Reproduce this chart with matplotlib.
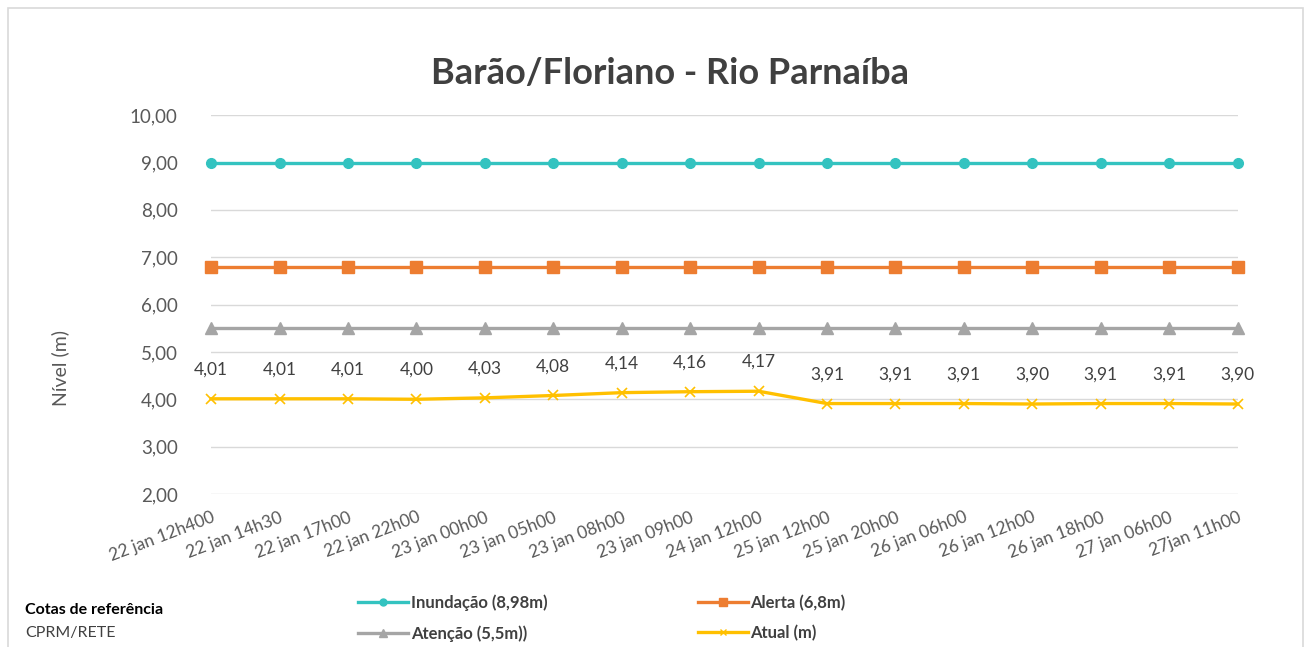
import matplotlib.pyplot as plt
import matplotlib.patches as mpatches
from matplotlib.lines import Line2D
import numpy as np

plt.rcParams['font.family'] = ['Lato', 'DejaVu Sans']

datas = ['22 jan 12h400', '22 jan 14h30', '22 jan 17h00', '22 jan 22h00', '23 jan 00h00',
         '23 jan 05h00', '23 jan 08h00', '23 jan 09h00', '24 jan 12h00', '25 jan 12h00',
         '25 jan 20h00', '26 jan 06h00', '26 jan 12h00', '26 jan 18h00', '27 jan 06h00',
         '27jan 11h00']
inundacao = [9.0] * 16
alerta = [6.8] * 16
atencao = [5.5] * 16
atual = [4.01, 4.01, 4.01, 4.00, 4.03, 4.08, 4.14, 4.16, 4.17, 3.91, 3.91, 3.91, 3.90, 3.91, 3.91, 3.90]

cor_inund = '#33C3C0'
cor_alerta = '#ED7D31'
cor_atencao = '#A5A5A5'
cor_atual = '#FFC000'
cinza = '#595959'

fig = plt.figure(figsize=(13.11, 6.47), dpi=100)
ax1 = fig.add_axes([0.161, 0.2365, 0.783, 0.5855])

# moldura do grafico
fig.patches.append(mpatches.Rectangle((0.006, -0.01), 0.988, 0.998, transform=fig.transFigure,
                                      fill=False, edgecolor='#D9D9D9', lw=1.2))

x = np.arange(len(datas))
ax1.plot(x, inundacao, color=cor_inund, lw=2.4, marker='o', markersize=7, clip_on=False, zorder=3)
ax1.plot(x, alerta, color=cor_alerta, lw=2.4, marker='s', markersize=9, clip_on=False, zorder=3)
ax1.plot(x, atencao, color=cor_atencao, lw=2.4, marker='^', markersize=8, clip_on=False, zorder=3)
ax1.plot(x, atual, color=cor_atual, lw=2.4, marker='x', markersize=7, mew=1.2, clip_on=False, zorder=3)

for xi, v in zip(x, atual):
    ax1.annotate(('%.2f' % v).replace('.', ','), (xi, v), xytext=(0, 21), textcoords='offset points',
                 ha='center', va='center', fontsize=12.5, color='#404040')

ax1.set_xlim(0, len(datas) - 1)
ax1.set_ylim(2, 10)
ax1.set_yticks(np.arange(2, 11, 1))
ax1.set_yticklabels(['%d,00' % v for v in range(2, 11)], fontsize=13.5, color=cinza)
ax1.set_xticks(x)
ax1.set_xticklabels(datas, rotation=21, ha='right', rotation_mode='anchor', fontsize=12.5, color=cinza)
ax1.tick_params(axis='y', length=0, pad=24)
ax1.tick_params(axis='x', length=0, pad=11)
ax1.yaxis.grid(True, color='#D9D9D9', lw=1)
ax1.set_axisbelow(True)
for s in ax1.spines.values():
    s.set_visible(False)

ax1.set_ylabel('Nível (m)', fontsize=14, color=cinza)
ax1.yaxis.set_label_coords(-0.138, 0.332)

fig.text(0.511, 0.887, 'Barão/Floriano - Rio Parnaíba', ha='center', va='center',
         fontsize=26, color='#404040', fontweight='bold')

# legenda
fig.text(0.019, 0.057, 'Cotas de referência', fontsize=11.5, fontweight='bold', color='black', va='center')
fig.text(0.019, 0.021, 'CPRM/RETE', fontsize=11.5, color='#404040', va='center')

handles = [Line2D([], [], color=cor_inund, lw=2.4, marker='o', markersize=5),
           Line2D([], [], color=cor_atencao, lw=2.4, marker='^', markersize=6),
           Line2D([], [], color=cor_alerta, lw=2.4, marker='s', markersize=6),
           Line2D([], [], color=cor_atual, lw=2.4, marker='x', markersize=5)]
labels = ['Inundação (8,98m)', 'Atenção (5,5m))', 'Alerta (6,8m)', 'Atual (m)']
leg = fig.legend(handles, labels, loc='center left', bbox_to_anchor=(0.262, 0.045), ncol=2,
                 frameon=False, fontsize=12, handlelength=3.0, handletextpad=0.15,
                 columnspacing=9.0, labelspacing=0.85)
for t in leg.get_texts():
    t.set_color('#404040')
    t.set_fontweight('bold')

plt.savefig('out.png', dpi=100)
